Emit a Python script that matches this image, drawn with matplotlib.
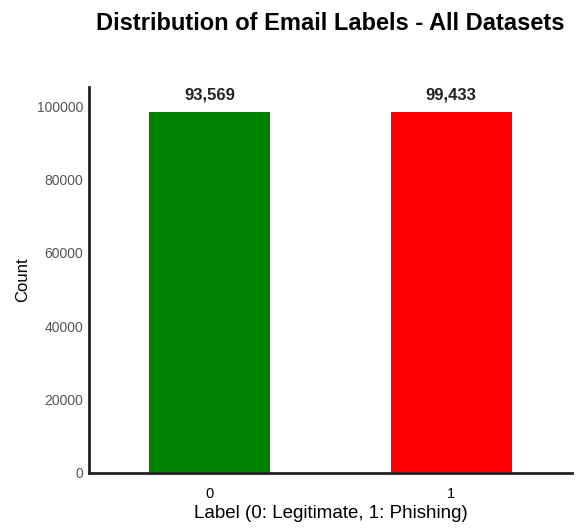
import matplotlib
matplotlib.use('Agg')
import matplotlib.pyplot as plt

plt.rcParams['font.family'] = ['Liberation Sans', 'DejaVu Sans']

etiquetas = ['0', '1']
alturas = [98400, 98400]
textos = ['93,569', '99,433']
colores = ['green', 'red']

fig = plt.figure(figsize=(5.79, 5.29), dpi=100)
ax = fig.add_axes([0.1537, 0.1059, 0.8343, 0.7301])

x = range(len(etiquetas))
ax.bar(x, alturas, width=0.5, color=colores)

for xi, h, t in zip(x, alturas, textos):
    ax.text(xi, h + 3400, t, ha='center', va='baseline', fontsize=12, weight='bold', color='#222222')

ax.set_xlim(-0.5, 1.5)
ax.set_ylim(0, max(alturas) * 1.07)
ax.set_xticks(list(x))
ax.set_xticklabels(etiquetas, fontsize=10.5)
ax.set_yticks([0, 20000, 40000, 60000, 80000, 100000])
ax.tick_params(axis='y', labelsize=10, labelcolor='#555555', length=0, pad=4)
ax.tick_params(axis='x', length=0, pad=10)

for s in ['top', 'right']:
    ax.spines[s].set_visible(False)
for s in ['left', 'bottom']:
    ax.spines[s].set_linewidth(2)
    ax.spines[s].set_color('#222222')

ax.set_xlabel('Label (0: Legitimate, 1: Phishing)', fontsize=13.5, labelpad=3)
ax.set_ylabel('Count', fontsize=12, labelpad=5)
ax.set_title('Distribution of Email Labels - All Datasets', fontsize=17, weight='bold', pad=41)

fig.savefig('out.png', dpi=100)
